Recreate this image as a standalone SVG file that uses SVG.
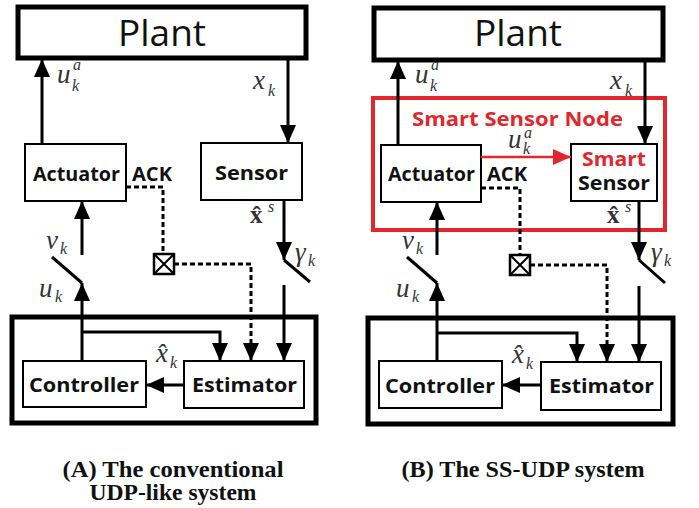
<svg xmlns="http://www.w3.org/2000/svg" width="699" height="508" viewBox="0 0 699 508">
<style>
.bg{fill:#fff}
.box{fill:#fff;stroke:#000;stroke-width:2}
.thick{fill:#fff;stroke:#000;stroke-width:5}
.red{fill:none;stroke:#e3262b;stroke-width:4}
.ln{fill:none;stroke:#000;stroke-width:3}
.rln{fill:none;stroke:#e3262b;stroke-width:2.5}
.dash{fill:none;stroke:#000;stroke-width:3;stroke-dasharray:5 3}
.plant{font-family:"Open Sans","Liberation Sans",sans-serif;font-size:37px;fill:#111;text-anchor:middle}
.lbl{font-family:"Open Sans","Liberation Sans",sans-serif;font-weight:bold;font-size:19px;fill:#111}
.rlbl{fill:#e3262b}
.m{font-family:"Liberation Serif","Times New Roman",serif;font-style:italic;font-size:27px;fill:#333}
.ms{font-size:16px}
.mb{font-family:"Liberation Serif","Times New Roman",serif;font-weight:bold;font-size:25px;fill:#333}
.cap{font-family:"Liberation Serif","Times New Roman",serif;font-weight:bold;font-size:23px;fill:#111;text-anchor:middle}
</style>
<defs>
<marker id="ah" markerUnits="userSpaceOnUse" viewBox="0 0 18 16" markerWidth="18" markerHeight="16" refX="18" refY="8" orient="auto"><path d="M0,0 L18,8 L0,16 z" fill="#000"/></marker>
<marker id="ahr" markerUnits="userSpaceOnUse" viewBox="0 0 18 16" markerWidth="18" markerHeight="16" refX="18" refY="8" orient="auto"><path d="M0,0 L18,8 L0,16 z" fill="#e3262b"/></marker>
</defs>
<rect class="bg" x="0" y="0" width="699" height="508"/>

<!-- ===== Panel A ===== -->
<g id="A-plant"><rect class="thick" x="18" y="7" width="288" height="51"/><text class="plant" x="162" y="46">Plant</text></g>
<g id="A-actuator"><rect class="box" x="25" y="144" width="101" height="57"/><text class="lbl" x="33" y="181" textLength="87" lengthAdjust="spacingAndGlyphs">Actuator</text></g>
<g id="A-sensor"><rect class="box" x="201" y="143" width="101" height="57"/><text class="lbl" x="215" y="180" textLength="73" lengthAdjust="spacingAndGlyphs">Sensor</text></g>
<g id="A-network"><rect class="thick" x="12" y="317" width="304" height="106"/></g>
<g id="A-controller"><rect class="box" x="23" y="361" width="123" height="46"/><text class="lbl" x="29" y="392" textLength="110" lengthAdjust="spacingAndGlyphs">Controller</text></g>
<g id="A-estimator"><rect class="box" x="184" y="361" width="120" height="47"/><text class="lbl" x="192" y="392" textLength="105" lengthAdjust="spacingAndGlyphs">Estimator</text></g>
<g id="A-ackbox"><rect x="154" y="254" width="20" height="20" fill="#fff" stroke="#000" stroke-width="2.5"/><path d="M154,254 L174,274 M174,254 L154,274" stroke="#000" stroke-width="2"/></g>

<g id="A-connectors">
<path class="ln" d="M42,144 V59" marker-end="url(#ah)"/>
<path class="ln" d="M288,58 V143" marker-end="url(#ah)"/>
<path class="dash" d="M126,187 H163 V254"/>
<path class="dash" d="M174,264 H251 V361" marker-end="url(#ah)"/>
<path class="ln" d="M284,200 V260" marker-end="url(#ah)"/>
<path class="ln" d="M284,260 L310,282"/>
<path class="ln" d="M284,285 V361" marker-end="url(#ah)"/>
<path class="ln" d="M82,255 V201" marker-end="url(#ah)"/>
<path class="ln" d="M82,283 L52,257"/>
<path class="ln" d="M82,361 V283" marker-end="url(#ah)"/>
<path class="ln" d="M82,332 H220 V361" marker-end="url(#ah)"/>
<path class="ln" d="M184,385 H146" marker-end="url(#ah)"/>
</g>
<g id="A-labels">
<text class="m" x="57" y="83">u</text><text class="m ms" x="73" y="70">a</text><text class="m ms" x="72" y="91">k</text>
<text class="m" x="253" y="89">x</text><text class="m ms" x="268" y="96">k</text>
<text class="lbl" x="132" y="181" textLength="40" lengthAdjust="spacingAndGlyphs">ACK</text>
<text class="mb" x="250" y="223">x̂</text><text class="m ms" x="268" y="212">s</text>
<text class="m" x="295" y="261">γ</text><text class="m ms" x="308" y="266">k</text>
<text class="m" x="46" y="249">ν</text><text class="m ms" x="60" y="254">k</text>
<text class="m" x="39" y="297">u</text><text class="m ms" x="55" y="302">k</text>
<text class="m" x="156" y="362">x̂</text><text class="m ms" x="170" y="368">k</text>
</g>
<text class="cap" x="173" y="477" textLength="221" lengthAdjust="spacingAndGlyphs">(A) The conventional</text>
<text class="cap" x="173" y="500" textLength="167" lengthAdjust="spacingAndGlyphs">UDP-like system</text>

<!-- ===== Panel B ===== -->
<g id="B-plant"><rect class="thick" x="374" y="8" width="289" height="52"/><text class="plant" x="518" y="46">Plant</text></g>
<g id="B-smartnode"><rect class="red" x="373" y="98" width="292" height="132"/><text class="lbl rlbl" x="412" y="126" textLength="211" lengthAdjust="spacingAndGlyphs">Smart Sensor Node</text></g>
<g id="B-actuator"><rect class="box" x="381" y="145" width="100" height="57"/><text class="lbl" x="388" y="181" textLength="87" lengthAdjust="spacingAndGlyphs">Actuator</text></g>
<g id="B-smartsensor"><rect class="box" x="571" y="144" width="86" height="57"/><text class="lbl rlbl" x="582" y="166" textLength="64" lengthAdjust="spacingAndGlyphs">Smart</text><text class="lbl" x="578" y="190" textLength="72" lengthAdjust="spacingAndGlyphs">Sensor</text></g>
<g id="B-network"><rect class="thick" x="368" y="318" width="305" height="106"/></g>
<g id="B-controller"><rect class="box" x="379" y="361" width="123" height="47"/><text class="lbl" x="385" y="393" textLength="110" lengthAdjust="spacingAndGlyphs">Controller</text></g>
<g id="B-estimator"><rect class="box" x="541" y="362" width="120" height="48"/><text class="lbl" x="549" y="393" textLength="105" lengthAdjust="spacingAndGlyphs">Estimator</text></g>
<g id="B-ackbox"><rect x="510" y="255" width="20" height="20" fill="#fff" stroke="#000" stroke-width="2.5"/><path d="M510,255 L530,275 M530,255 L510,275" stroke="#000" stroke-width="2"/></g>

<g id="B-connectors">
<path class="ln" d="M398,145 V61" marker-end="url(#ah)"/>
<path class="ln" d="M645,60 V144" marker-end="url(#ah)"/>
<path class="rln" d="M481,157 H571" marker-end="url(#ahr)"/>
<path class="dash" d="M481,188 H520 V255"/>
<path class="dash" d="M530,265 H607 V362" marker-end="url(#ah)"/>
<path class="ln" d="M639,201 V260" marker-end="url(#ah)"/>
<path class="ln" d="M639,260 L665,283"/>
<path class="ln" d="M639,286 V362" marker-end="url(#ah)"/>
<path class="ln" d="M437,255 V202" marker-end="url(#ah)"/>
<path class="ln" d="M437,283 L407,257"/>
<path class="ln" d="M437,361 V283" marker-end="url(#ah)"/>
<path class="ln" d="M437,333 H577 V362" marker-end="url(#ah)"/>
<path class="ln" d="M541,385 H502" marker-end="url(#ah)"/>
</g>
<g id="B-labels">
<text class="m" x="415" y="83">u</text><text class="m ms" x="431" y="70">a</text><text class="m ms" x="430" y="91">k</text>
<text class="m" x="610" y="89">x</text><text class="m ms" x="625" y="96">k</text>
<text class="m" x="508" y="148">u</text><text class="m ms" x="524" y="138">a</text><text class="m ms" x="523" y="154">k</text>
<text class="lbl" x="487" y="181" textLength="40" lengthAdjust="spacingAndGlyphs">ACK</text>
<text class="mb" x="607" y="223">x̂</text><text class="m ms" x="625" y="212">s</text>
<text class="m" x="651" y="261">γ</text><text class="m ms" x="664" y="266">k</text>
<text class="m" x="402" y="249">ν</text><text class="m ms" x="416" y="254">k</text>
<text class="m" x="396" y="297">u</text><text class="m ms" x="412" y="302">k</text>
<text class="m" x="512" y="363">x̂</text><text class="m ms" x="526" y="369">k</text>
</g>
<text class="cap" x="523" y="477" textLength="243" lengthAdjust="spacingAndGlyphs">(B) The SS-UDP system</text>
</svg>
